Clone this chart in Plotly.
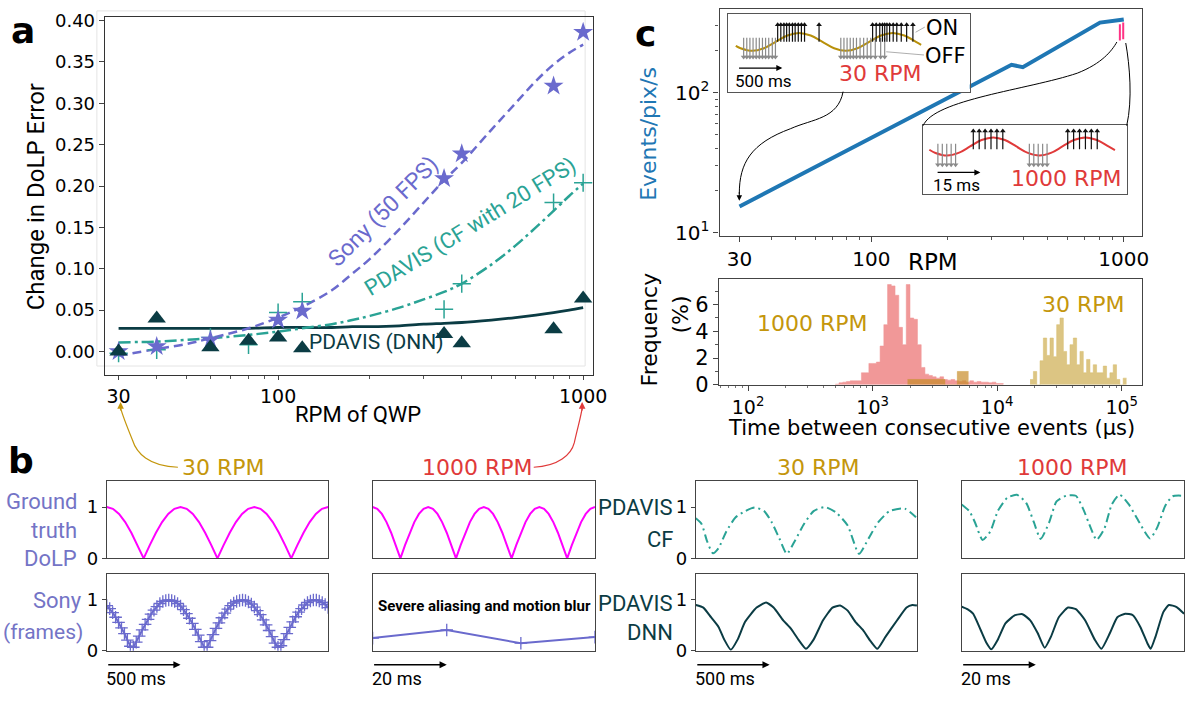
import numpy as np
import plotly.graph_objects as go

W, H = 1203, 704

# ---------------- panel a data ----------------
rpm_pts = [30, 40, 60, 80, 100, 120, 350, 400, 800, 1000]
sony_err = [0.000, 0.006, 0.014, None, 0.038, 0.049, 0.209, 0.239, 0.321, 0.386]
cf_err = [-0.002, 0.002, 0.017, 0.008, 0.047, 0.060, 0.051, 0.082, 0.180, 0.204]
dnn_err = [0.000, 0.040, 0.005, 0.013, 0.017, 0.004, 0.021, 0.010, 0.027, 0.064]
fit_rpm = [30, 40, 50, 60, 80, 100, 120, 150, 175, 200, 250, 300, 350, 400, 500, 600, 700, 800, 900, 1000]
sony_fit = [-0.005, 0.003, 0.009, 0.016, 0.028, 0.041, 0.054, 0.074, 0.094, 0.112, 0.148, 0.180, 0.207, 0.228, 0.268, 0.300, 0.327, 0.347, 0.361, 0.371]
cf_fit = [0.011, 0.012, 0.014, 0.016, 0.020, 0.024, 0.028, 0.033, 0.038, 0.043, 0.053, 0.063, 0.072, 0.082, 0.105, 0.128, 0.150, 0.170, 0.188, 0.203]
dnn_fit = [0.028, 0.028, 0.028, 0.028, 0.028, 0.029, 0.029, 0.029, 0.030, 0.030, 0.031, 0.033, 0.034, 0.035, 0.038, 0.041, 0.044, 0.047, 0.050, 0.053]

# ---------------- panel c data ----------------
rpm_c = [30, 359, 398, 805, 1000]
events_c = [15.4, 158, 152, 316, 333]
pink_rpm = [965, 995]
pink_lo = [235, 240]
pink_hi = [308, 316]

ins1_t = [82, 135, 266, 397, 527, 658, 788, 919, 1050, 1180, 1311, 1441, 1572, 1703, 1833, 1964, 2094, 2152]
ins1_v = [-0.45, -0.71, -1.0, -0.71, 0.0, 0.71, 1.0, 0.71, 0.0, -0.71, -1.0, -0.71, 0.0, 0.71, 1.0, 0.71, 0.0, -0.34]
ins1_on = [550, 585, 620, 650, 680, 715, 745, 780, 815, 850, 1012, 1610, 1650, 1690, 1720, 1745, 1770, 1800, 1840, 1880, 1930, 1990, 2060]
ins1_off = [170, 205, 240, 275, 310, 345, 380, 415, 450, 490, 525, 1255, 1290, 1325, 1360, 1395, 1430, 1470, 1510, 1550, 1590, 1640, 1700, 1745]

ins2_t = [2.1, 4.2, 8.1, 12.0, 15.9, 19.8, 23.75, 27.7, 31.6, 35.5, 39.4, 43.3, 47.2, 51.1, 55.0, 58.9, 62.8, 65.0]
ins2_v = [-0.36, -0.71, -1.0, -0.71, 0.0, 0.71, 1.0, 0.71, 0.0, -0.71, -1.0, -0.71, 0.0, 0.71, 1.0, 0.71, 0.0, -0.4]
ins2_on = [17, 19, 21, 23, 25, 27, 49, 51, 53, 55, 57, 59]
ins2_off = [5, 6.5, 8, 9.5, 11, 36, 37.5, 39, 40.5, 42]

# histogram (log10 bin edges of time between events, in us)
red_start, red_width = 2.70, 0.03
red_freq = [0.05, 0.15, 0.2, 0.25, 0.3, 0.3, 0.3, 0.9, 0.9, 1.6, 1.6, 1.7, 2.9, 4.5, 7.5, 7.4, 6.7, 4.3,
            3.0, 7.5, 5.0, 4.9, 3.0, 1.3, 0.8, 0.7, 0.6, 0.5, 0.6, 0.4, 0.35, 0.4, 0.3, 0.25, 0.3, 0.2,
            0.3, 0.2, 0.25, 0.2, 0.2, 0.15, 0.2, 0.1, 0.1]
gold_start, gold_width = 4.264, 0.0267
gold_freq = [0.4, 1.0, 0.0, 1.8, 3.5, 2.2, 3.5, 2.1, 4.5, 5.0, 2.5, 1.5, 3.0, 3.5, 1.5, 2.5, 0.9, 1.9,
             0.9, 1.5, 0.9, 0.9, 1.4, 0.5, 0.9, 1.5, 0.4, 0.0, 0.5]
gold_coarse_edges = [3.28, 3.58, 3.68, 3.77]
gold_coarse_freq = [0.4, 0.0, 1.0]

# ---------------- panel b data ----------------
gt_step_30 = 500 / 12
gt_30 = [1, .966, .866, .707, .5, .259, 0, .259, .5, .707, .866, .966,
         1, .966, .866, .707, .5, .259, 0, .259, .5, .707, .866, .966,
         1, .966, .866, .707, .5, .259, 0, .259, .5, .707, .866, .966, 1]
gt_step_1000 = 1.25
gt_1000 = [1, .966, .866, .707, .5, .259, 0, .259, .5, .707, .866, .966,
           1, .966, .866, .707, .5, .259, 0, .259, .5, .707, .866, .966,
           1, .966, .866, .707, .5, .259, 0, .259, .5, .707, .866, .966,
           1, .966, .866, .707, .5, .259, 0, .259, .5, .707, .866, .966, 1]
sony_step_30 = 20
sony_30 = [0.89, 0.83, 0.75, 0.66, 0.56, 0.45, 0.34, 0.21, 0.09, 0.07, 0.17, 0.29, 0.41, 0.52, 0.62, 0.72,
           0.80, 0.87, 0.93, 0.97, 0.99, 1.0, 0.99, 0.97, 0.93, 0.88, 0.81, 0.73, 0.64, 0.54, 0.42, 0.31,
           0.18, 0.07, 0.07, 0.20, 0.32, 0.44, 0.55, 0.65, 0.74, 0.82, 0.89, 0.94, 0.97, 0.99, 1.0, 0.99,
           0.96, 0.92, 0.86, 0.79, 0.71, 0.61, 0.51, 0.40, 0.28, 0.15, 0.07, 0.10, 0.22, 0.34, 0.46, 0.57,
           0.67, 0.76, 0.83, 0.90, 0.95, 0.98, 1.0, 1.0, 0.98, 0.95, 0.91, 0.85]
sony_t_1000 = [0, 20, 40, 60]
sony_1000 = [0.25, 0.41, 0.15, 0.27]
cf_t_30 = [0, 39, 77, 116, 154, 206, 270, 334, 399, 463, 515, 566, 617, 669, 733, 798, 875, 952, 1029, 1106, 1171, 1235, 1312, 1415, 1492]
cf_30 = [0.78, 0.67, 0.33, 0.10, 0.20, 0.52, 0.80, 0.92, 0.99, 0.92, 0.70, 0.39, 0.09, 0.33, 0.67, 0.92, 1.00, 0.89, 0.64, 0.09, 0.39, 0.70, 0.92, 0.97, 0.80]
cf_t_1000 = [0, 2.05, 3.6, 5.64, 7.69, 9.74, 12.3, 14.9, 17.4, 19.5, 21.3, 23.6, 25.6, 28.2, 30.8, 32.8, 34.9, 36.4, 38.5, 40.5, 42.6, 45.1, 47.7, 50.8, 52.8, 54.9, 56.9, 60]
cf_1000 = [1.05, 0.92, 0.70, 0.36, 0.52, 0.92, 1.18, 1.24, 1.08, 0.70, 0.38, 0.70, 1.11, 1.22, 1.22, 0.96, 0.58, 0.36, 0.58, 1.05, 1.24, 1.05, 0.73, 0.39, 0.61, 1.02, 1.21, 1.22]
dnn_t_30 = [0, 51, 103, 154, 193, 237, 283, 334, 412, 476, 527, 592, 643, 695, 746, 798, 862, 926, 978, 1029, 1081, 1132, 1184, 1230, 1286, 1364, 1428, 1467, 1498]
dnn_30 = [0.90, 0.85, 0.66, 0.47, 0.22, 0.02, 0.22, 0.57, 0.85, 0.95, 0.85, 0.60, 0.44, 0.22, 0.04, 0.22, 0.60, 0.85, 0.89, 0.79, 0.57, 0.41, 0.19, 0.04, 0.28, 0.60, 0.85, 0.90, 0.89]
dnn_t_1000 = [0, 1.54, 3.08, 5.13, 6.67, 8.0, 9.74, 11.8, 14.4, 16.4, 18.5, 20.5, 22.4, 24.1, 26.2, 28.7, 30.8, 33.3, 35.9, 37.7, 40.0, 42.0, 44.1, 46.2, 48.2, 50.1, 51.0, 52.3, 54.4, 55.9, 58.0, 60.0]
dnn_1000 = [0.87, 0.82, 0.73, 0.41, 0.16, 0.03, 0.22, 0.54, 0.70, 0.72, 0.60, 0.35, 0.06, 0.28, 0.66, 0.85, 0.82, 0.60, 0.22, 0.04, 0.35, 0.66, 0.73, 0.70, 0.47, 0.15, 0.04, 0.28, 0.76, 0.90, 0.86, 0.73]

# ---------------- styles ----------------
FONT = "DejaVu Sans"
COND = "Roboto, DejaVu Sans"
SONY = "#6a6acd"
SONY_LBL = "#7474c6"
CF = "#2aa395"
DNN = "#0b3c44"
GOLD = "#c4960c"
RED = "#e03a3a"
BLUE = "#1f77b4"
SPINE = "#444444"


def xd(x0, x1):
    return [x0 / W, x1 / W]


def yd(top, bottom):
    return [1 - bottom / H, 1 - top / H]


def px(x):
    return x / W


def py(y):
    return 1 - y / H


fig = go.Figure()
layout = dict(width=W, height=H, margin=dict(l=0, r=0, t=0, b=0), paper_bgcolor="white",
              plot_bgcolor="white", showlegend=False, font=dict(family=FONT, color="black"))

box = dict(showgrid=False, zeroline=False, showline=True, linecolor=SPINE, linewidth=1.2, mirror=True)

# ---------------- panel a ----------------
layout["xaxis"] = dict(box, domain=xd(106, 600), type="log", range=[1.4318, 3.0324], anchor="y",
                       tickvals=[30, 100, 1000], ticktext=["30", "100", "1000"], ticks="outside", ticklen=4,
                       tickfont=dict(size=19), linecolor="#333",
                       minor=dict(tickvals=[40, 50, 60, 70, 80, 90, 200, 300, 400, 500, 600, 700, 800, 900],
                                  ticks="outside", ticklen=3, tickcolor="#555"))
layout["yaxis"] = dict(box, domain=yd(10.7, 378), range=[-0.0282, 0.4039], anchor="x",
                       tickvals=[0, 0.05, 0.1, 0.15, 0.2, 0.25, 0.3, 0.35, 0.4],
                       ticktext=["0.00", "0.05", "0.10", "0.15", "0.20", "0.25", "0.30", "0.35", "0.40"],
                       ticks="outside", ticklen=5, tickfont=dict(size=18), linecolor="#333")

fig.add_trace(go.Scatter(x=fit_rpm, y=dnn_fit, mode="lines", line=dict(color=DNN, width=2.8, shape="spline"),
                         xaxis="x", yaxis="y"))
fig.add_trace(go.Scatter(x=fit_rpm, y=cf_fit, mode="lines",
                         line=dict(color=CF, width=2.5, dash="12px,4px,3px,4px", shape="spline"),
                         xaxis="x", yaxis="y"))
fig.add_trace(go.Scatter(x=fit_rpm, y=sony_fit, mode="lines",
                         line=dict(color=SONY, width=2.5, dash="9px,5px", shape="spline"),
                         xaxis="x", yaxis="y"))
fig.add_trace(go.Scatter(x=rpm_pts, y=cf_err, mode="markers",
                         marker=dict(symbol="cross-thin", size=13, line=dict(color=CF, width=1.5)),
                         xaxis="x", yaxis="y"))
fig.add_trace(go.Scatter(x=rpm_pts, y=sony_err, mode="markers",
                         marker=dict(symbol="star", size=15, color=SONY, line=dict(width=0)),
                         xaxis="x", yaxis="y"))
fig.add_trace(go.Scatter(x=rpm_pts, y=dnn_err, mode="markers",
                         marker=dict(symbol="triangle-up", size=16, color=DNN, line=dict(width=0)),
                         xaxis="x", yaxis="y"))

# ---------------- panel c (top) ----------------
layout["xaxis2"] = dict(box, domain=xd(728, 1155), type="log", range=[1.398, 3.0705], anchor="y2",
                        tickvals=[30, 100, 1000], ticktext=["30", "100", "1000"], ticks="outside", ticklen=5,
                        tickfont=dict(size=20),
                        minor=dict(tickvals=[40, 50, 60, 70, 80, 90, 200, 300, 400, 500, 600, 700, 800, 900],
                                   ticks="outside", ticklen=3, tickcolor="#555"))
layout["yaxis2"] = dict(box, domain=yd(2, 235), type="log", range=[0.979, 2.597], anchor="x2",
                        tickvals=[10, 100], ticktext=["10<sup>1</sup>", "10<sup>2</sup>"], ticks="outside",
                        ticklen=5, tickfont=dict(size=20),
                        minor=dict(tickvals=[20, 30, 40, 50, 60, 70, 80, 90, 200, 300],
                                   ticks="outside", ticklen=3, tickcolor="#555"))
fig.add_trace(go.Scatter(x=rpm_c, y=events_c, mode="lines", line=dict(color=BLUE, width=4),
                         xaxis="x2", yaxis="y2"))
pxs, pys = [], []
for r, lo, hi in zip(pink_rpm, pink_lo, pink_hi):
    pxs += [r, r, None]
    pys += [lo, hi, None]
fig.add_trace(go.Scatter(x=pxs, y=pys, mode="lines", line=dict(color="#ff3385", width=2),
                         xaxis="x2", yaxis="y2"))


def event_traces(times, y0, y1, color, symbol, xa, ya, width=1.2, size=5):
    xs, ys = [], []
    for t in times:
        xs += [t, t, None]
        ys += [y0, y1, None]
    fig.add_trace(go.Scatter(x=xs, y=ys, mode="lines", line=dict(color=color, width=width),
                             xaxis=xa, yaxis=ya))
    fig.add_trace(go.Scatter(x=times, y=[y1] * len(times), mode="markers",
                             marker=dict(symbol=symbol, size=size, color=color), xaxis=xa, yaxis=ya))


inset_ax = dict(showgrid=False, zeroline=False, showline=True, linecolor="#555", linewidth=1, mirror=True,
                showticklabels=False, ticks="", fixedrange=True)

# inset 1 (30 RPM)
ins1_xr = [0, 2693]
ins1_yr = [-5.6, 3.1]
layout["xaxis3"] = dict(inset_ax, domain=xd(737, 981), range=ins1_xr, anchor="y3")
layout["yaxis3"] = dict(inset_ax, domain=yd(7.3, 87.3), range=ins1_yr, anchor="x3")
fig.add_trace(go.Scatter(x=[ins1_xr[0], ins1_xr[1], ins1_xr[1], ins1_xr[0]],
                         y=[ins1_yr[0], ins1_yr[0], ins1_yr[1], ins1_yr[1]], fill="toself",
                         fillcolor="white", line=dict(width=0), mode="lines", xaxis="x3", yaxis="y3"))
fig.add_trace(go.Scatter(x=ins1_t, y=ins1_v, mode="lines", line=dict(color="#b8900a", width=2, shape="spline"),
                         xaxis="x3", yaxis="y3"))
event_traces(ins1_off, 0.45, -1.7, "#8a8a8a", "triangle-down", "x3", "y3")
event_traces(ins1_on, 0.0, 1.9, "#111111", "triangle-up", "x3", "y3")
fig.add_trace(go.Scatter(x=[2193, 2090, None, 2184, 1762], y=[1.65, 1.07, None, -1.47, -1.11], mode="lines",
                         line=dict(color="#999999", width=0.8), xaxis="x3", yaxis="y3"))

# inset 2 (1000 RPM)
ins2_xr = [0, 69]
ins2_yr = [-5.18, 2.32]
layout["xaxis4"] = dict(inset_ax, domain=xd(934, 1140), range=ins2_xr, anchor="y4")
layout["yaxis4"] = dict(inset_ax, domain=yd(121.7, 191.7), range=ins2_yr, anchor="x4")
fig.add_trace(go.Scatter(x=[ins2_xr[0], ins2_xr[1], ins2_xr[1], ins2_xr[0]],
                         y=[ins2_yr[0], ins2_yr[0], ins2_yr[1], ins2_yr[1]], fill="toself",
                         fillcolor="white", line=dict(width=0), mode="lines", xaxis="x4", yaxis="y4"))
fig.add_trace(go.Scatter(x=ins2_t, y=ins2_v, mode="lines", line=dict(color=RED, width=2, shape="spline"),
                         xaxis="x4", yaxis="y4"))
event_traces(ins2_off, 0.3, -2.0, "#8a8a8a", "triangle-down", "x4", "y4")
event_traces(ins2_on, -0.3, 1.7, "#111111", "triangle-up", "x4", "y4")

# ---------------- histogram ----------------
layout["xaxis5"] = dict(box, domain=xd(727.5, 1155), type="log", range=[1.767, 5.159], anchor="y5",
                        tickvals=[100, 1000, 10000, 100000],
                        ticktext=["10<sup>2</sup>", "10<sup>3</sup>", "10<sup>4</sup>", "10<sup>5</sup>"],
                        ticks="outside", ticklen=5, tickfont=dict(size=19),
                        minor=dict(tickvals=[m * 10 ** e for e in range(1, 5) for m in range(2, 10)],
                                   ticks="outside", ticklen=2, tickcolor="#777"))
layout["yaxis5"] = dict(box, domain=yd(279.5, 388.3), range=[0, 7.92], anchor="x5",
                        tickvals=[0, 2, 4, 6], ticks="outside", ticklen=5, tickfont=dict(size=21),
                        minor=dict(dtick=1, ticks="outside", ticklen=3, tickcolor="#555"))


def step_hist(start, width, freqs, color, line_color):
    edges = [10 ** (start + width * i) for i in range(len(freqs) + 1)]
    fig.add_trace(go.Scatter(x=edges, y=list(freqs) + [freqs[-1]], mode="lines",
                             line=dict(shape="hv", color=line_color, width=0.6), fill="tozeroy",
                             fillcolor=color, xaxis="x5", yaxis="y5"))


step_hist(red_start, red_width, red_freq, "rgba(235,112,112,0.72)", "rgba(240,150,150,0.9)")
gedges = [10 ** e for e in gold_coarse_edges]
fig.add_trace(go.Scatter(x=gedges, y=gold_coarse_freq + [gold_coarse_freq[-1]], mode="lines",
                         line=dict(shape="hv", color="rgba(200,150,40,0.7)", width=0.6), fill="tozeroy",
                         fillcolor="rgba(200,140,40,0.7)", xaxis="x5", yaxis="y5"))
step_hist(gold_start, gold_width, gold_freq, "rgba(208,178,90,0.75)", "rgba(215,190,110,0.9)")

# ---------------- panel b ----------------
cols = [(108, 332), (377, 602), (704, 928), (973, 1198)]
rows = [(487, 566.7), (582.7, 661.7)]
b_specs = [
    (0, 0, [0, 1500], True), (1, 0, [0, 60], False), (0, 1, [0, 1500], True), (1, 1, [0, 60], False),
    (2, 0, [0, 1500], True), (3, 0, [0, 60], False), (2, 1, [0, 1500], True), (3, 1, [0, 60], False),
]
b_axis_ids = []
for i, (c, r, xr, showy) in enumerate(b_specs):
    n = 6 + i
    layout[f"xaxis{n}"] = dict(box, domain=xd(*cols[c]), range=xr, anchor=f"y{n}", showticklabels=False,
                               ticks="", linewidth=1)
    layout[f"yaxis{n}"] = dict(box, domain=yd(*rows[r]), range=[0, 1.51], anchor=f"x{n}", tickvals=[0, 1],
                               showticklabels=showy, ticks="outside" if showy else "", ticklen=4,
                               tickfont=dict(size=18), linewidth=1)
    b_axis_ids.append((f"x{n}", f"y{n}"))

(gx30, gy30), (gx1k, gy1k), (sx30, sy30), (sx1k, sy1k), (cx30, cy30), (cx1k, cy1k), (dx30, dy30), (dx1k, dy1k) = b_axis_ids

fig.add_trace(go.Scatter(x=[i * gt_step_30 for i in range(len(gt_30))], y=gt_30, mode="lines",
                         line=dict(color="#ff00ff", width=2), xaxis=gx30, yaxis=gy30))
fig.add_trace(go.Scatter(x=[i * gt_step_1000 for i in range(len(gt_1000))], y=gt_1000, mode="lines",
                         line=dict(color="#ff00ff", width=2), xaxis=gx1k, yaxis=gy1k))
fig.add_trace(go.Scatter(x=[i * sony_step_30 for i in range(len(sony_30))], y=sony_30, mode="lines+markers",
                         line=dict(color=SONY, width=2),
                         marker=dict(symbol="cross-thin", size=9, line=dict(color=SONY, width=1.3)),
                         xaxis=sx30, yaxis=sy30))
fig.add_trace(go.Scatter(x=sony_t_1000, y=sony_1000, mode="lines+markers", line=dict(color=SONY, width=2),
                         marker=dict(symbol="cross-thin", size=9, line=dict(color=SONY, width=1.3)),
                         xaxis=sx1k, yaxis=sy1k))
fig.add_trace(go.Scatter(x=cf_t_30, y=cf_30, mode="lines", line=dict(color=CF, width=2,
                         dash="9px,4px,2px,4px", shape="spline", smoothing=0.6), xaxis=cx30, yaxis=cy30))
fig.add_trace(go.Scatter(x=cf_t_1000, y=cf_1000, mode="lines", line=dict(color=CF, width=2,
                         dash="9px,4px,2px,4px", shape="spline", smoothing=0.6), xaxis=cx1k, yaxis=cy1k))
fig.add_trace(go.Scatter(x=dnn_t_30, y=dnn_30, mode="lines", line=dict(color=DNN, width=2,
                         shape="spline", smoothing=0.5), xaxis=dx30, yaxis=dy30))
fig.add_trace(go.Scatter(x=dnn_t_1000, y=dnn_1000, mode="lines", line=dict(color=DNN, width=2,
                         shape="spline", smoothing=0.5), xaxis=dx1k, yaxis=dy1k))

# ---------------- annotations ----------------
ann = []


def A(text, x, y, size, color="black", family=FONT, xanchor="center", yanchor="middle", angle=0, align="center",
      bold=False):
    if bold:
        text = f"<b>{text}</b>"
    ann.append(dict(text=text, x=px(x), y=py(y), xref="paper", yref="paper", showarrow=False,
                    font=dict(size=size, color=color, family=family), xanchor=xanchor, yanchor=yanchor,
                    textangle=angle, align=align))


def tip(x, y, ax, ay, color, width=1.2):
    ann.append(dict(text="", x=px(x), y=py(y), xref="paper", yref="paper", showarrow=True, ax=ax, ay=ay,
                    arrowhead=2, arrowsize=1.1, arrowwidth=width, arrowcolor=color))


# panel labels
A("a", 23, 24, 36, bold=True)
A("b", 21, 466, 36, bold=True)
A("c", 653, 27, 36, bold=True)

# panel a texts
A("Change in DoLP Error", 36, 195, 24, family=COND, angle=-90)
A("RPM of QWP", 362, 419, 22, family=COND)
A("Sony (50 FPS)", 388, 210, 23, color=SONY, family=COND, angle=-45)
A("PDAVIS (CF with 20 FPS)", 476, 226, 22, color=CF, family=COND, angle=-31.5)
A("PDAVIS (DNN)", 381, 344, 21, color=DNN, family=COND)

# panel c texts
A("Events/pix/s", 656, 130, 22, color=BLUE, angle=-90)
A("RPM", 944, 262, 23)
A("Frequency", 657, 331, 22, angle=-90)
A("(%)", 688, 316, 22, angle=-90)
A("1000 RPM", 822, 325, 22, color=GOLD)
A("30 RPM", 1096, 306, 22, color=GOLD)
A("Time between consecutive events (\u03bcs)", 942, 433, 21)


def AD(text, x, y, xa, ya, size, color="black", family=FONT, xanchor="center"):
    ann.append(dict(text=text, x=x, y=y, xref=xa, yref=ya, showarrow=False, xanchor=xanchor, yanchor="middle",
                    font=dict(size=size, color=color, family=family)))


AD("ON", 2389, 1.55, "x3", "y3", 21)
AD("OFF", 2426, -1.55, "x3", "y3", 21)
AD("30 RPM", 1700, -3.55, "x3", "y3", 22, color=RED)
AD("500 ms", 389, -4.4, "x3", "y3", 17, family=COND)
ann.append(dict(text="", x=602, y=-2.93, xref="x3", yref="y3", ax=102, ay=-2.93, axref="x3", ayref="y3",
                showarrow=True, arrowhead=2, arrowsize=1, arrowwidth=1.2, arrowcolor="black"))
AD("1000 RPM", 48.75, -3.57, "x4", "y4", 22, color=RED)
AD("15 ms", 11.25, -4.2, "x4", "y4", 17, family=COND)
ann.append(dict(text="", x=19.4, y=-2.86, xref="x4", yref="y4", ax=4.4, ay=-2.86, axref="x4", ayref="y4",
                showarrow=True, arrowhead=2, arrowsize=1, arrowwidth=1.2, arrowcolor="black"))

# panel b texts
A("30 RPM", 226, 473, 22, color=GOLD)
A("1000 RPM", 483, 473, 22, color=RED)
A("30 RPM", 828, 473, 22, color=GOLD)
A("1000 RPM", 1085, 473, 22, color=RED)
for txt, y in [("Ground", 508), ("truth", 538), ("DoLP", 567)]:
    A(txt, 80, y, 22, color=SONY_LBL, family=COND, xanchor="right")
A("Sony", 85, 610, 22, color=SONY_LBL, family=COND, xanchor="right")
A("(frames)", 86, 642, 21, color=SONY_LBL, family=COND, xanchor="right")
A("PDAVIS", 683, 514, 22, color=DNN, family=COND, xanchor="right")
A("CF", 683, 547, 22, color=DNN, family=COND, xanchor="right")
A("PDAVIS", 683, 613, 22, color=DNN, family=COND, xanchor="right")
A("DNN", 683, 643, 22, color=DNN, family=COND, xanchor="right")
A("Severe aliasing and motion blur", 490, 616, 15, family=COND, bold=True)
for xa, xr_end in [(sx30, 500), (sx1k, 20), (dx30, 500), (dx1k, 20)]:
    ann.append(dict(text="", x=xr_end, y=py(676), xref=xa, yref="paper", ax=0, ay=0, axref=xa, ayref="pixel",
                    showarrow=True, arrowhead=2, arrowsize=1.1, arrowwidth=1.3, arrowcolor="black"))
for x0, label in [(105, "500 ms"), (374, "20 ms"), (701, "500 ms"), (970, "20 ms")]:
    A(label, x0, 690, 18, family=COND, xanchor="left")


def path(cmds):
    out = []
    for c in cmds:
        if isinstance(c, str):
            out.append(c)
        else:
            out.append(f"{px(c[0]):.5f},{py(c[1]):.5f}")
    return " ".join(out)


shapes = []


def curve(cmds, color, width=1.2):
    shapes.append(dict(type="path", xref="paper", yref="paper", path=path(cmds),
                       line=dict(color=color, width=width)))


curve(["M", (180, 473), "C", (150, 472), (138, 458), (134, 445), "C", (128, 430), (124, 420), (122, 412)], GOLD)
tip(122, 406, 0, 10, GOLD)
curve(["M", (540, 473), "C", (565, 472), (578, 460), (581, 448), "C", (585, 430), (588, 420), (589, 412)], RED)
tip(589, 406, 0, 10, RED)
curve(["M", (853, 87), "C", (848, 115), (822, 115), (800, 125), "C", (760, 140), (748, 160), (748, 192)], "black", 1)
tip(748, 199, 0, -10, "black", 1)
curve(["M", (934, 122), "C", (945, 95), (1040, 85), (1090, 68), "C", (1115, 58), (1125, 45), (1130, 36)], "black", 1)
curve(["M", (1140, 122), "C", (1146, 95), (1143, 60), (1139, 37)], "black", 1)
shapes.append(dict(type="rect", xref="paper", yref="paper", x0=px(98), x1=px(592), y0=py(369), y1=py(4),
                   line=dict(color="#e4e4e4", width=1), layer="below"))

layout["annotations"] = ann
layout["shapes"] = shapes
fig.update_layout(**layout)
fig.write_html("out.html")
